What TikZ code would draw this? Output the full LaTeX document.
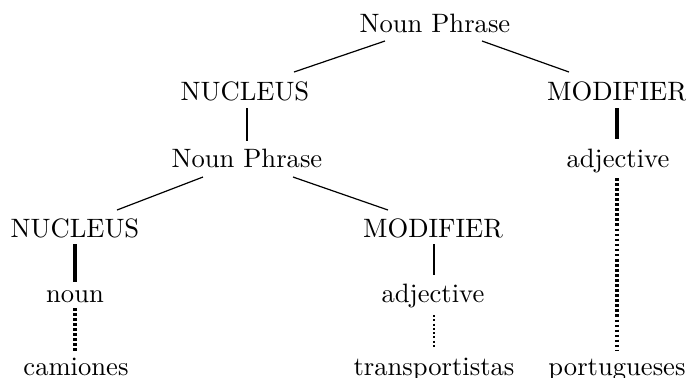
\documentclass[tikz,border=0pt]{standalone}
\usetikzlibrary{calc}
\begin{document}
\begin{tikzpicture}[x=0.376pt,y=-0.376pt,
  lbl/.style={inner sep=0pt,anchor=base},
  branch/.style={line width=0.45pt},
  thickline/.style={line width=1.2pt},
  midline/.style={line width=0.85pt},
  dotthick/.style={line width=1.2pt,dash pattern=on 1pt off 0.9pt},
  dotthin/.style={line width=0.8pt,dash pattern=on 0.8pt off 0.8pt}]
\useasboundingbox (0,0) rectangle (686,377);
\node[lbl] (np1) at (435,32) {Noun Phrase};
\node[lbl] (nuc1) at (245,100) {NUCLEUS};
\node[lbl] (mod1) at (617,100) {MODIFIER};
\node[lbl] (np2) at (247,167) {Noun Phrase};
\node[lbl] (adj1) at (618,167) {adjective};
\node[lbl] (nuc2) at (75,237) {NUCLEUS};
\node[lbl] (mod2) at (433,237) {MODIFIER};
\node[lbl] (noun) at (75,302) {noun};
\node[lbl] (adj2) at (433,302) {adjective};
\node[lbl] (cam) at (76,375) {camiones};
\node[lbl] (trans) at (434,375) {transportistas};
\node[lbl] (port) at (617,375) {portugueses};
% diagonal branches
\draw[branch] ($(np1.base)+(-50,9)$) -- ($(nuc1.base)+(49,-28)$);
\draw[branch] ($(np1.base)+(47,9)$) -- ($(mod1.base)+(-48,-28)$);
\draw[branch] ($(np2.base)+(-44,10)$) -- ($(nuc2.base)+(42,-27)$);
\draw[branch] ($(np2.base)+(46,10)$) -- ($(mod2.base)+(-45,-27)$);
% vertical links
\draw[midline] ($(nuc1.base)+(2,8)$) -- ($(np2.base)+(0,-26)$);
\draw[thickline] ($(mod1.base)+(0,8)$) -- ($(adj1.base)+(-1,-28)$);
\draw[thickline] ($(nuc2.base)+(0,7)$) -- ($(noun.base)+(0,-20)$);
\draw[midline] ($(mod2.base)+(1,7)$) -- ($(adj2.base)+(1,-27)$);
% dotted links
\draw[dotthick] ($(noun.base)+(0,6)$) -- ($(cam.base)+(-1,-23)$);
\draw[dotthin] ($(adj2.base)+(1,13)$) -- ($(trans.base)+(0,-27)$);
\draw[dotthick] ($(adj1.base)+(-1,11)$) -- ($(port.base)+(0,-25)$);
\end{tikzpicture}
\end{document}
